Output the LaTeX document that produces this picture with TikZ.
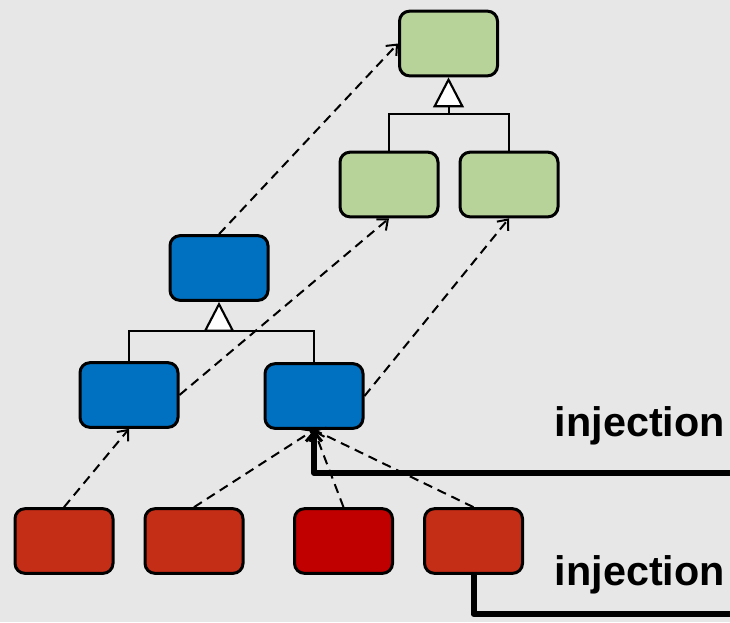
\documentclass[tikz,border=0pt]{standalone}
\usepackage{fontspec}
\setmainfont{Liberation Sans}
\usetikzlibrary{arrows.meta}
\definecolor{bg}{HTML}{E7E7E7}
\definecolor{leaf}{HTML}{B7D39A}
\definecolor{mid}{HTML}{0070C0}
\definecolor{low}{HTML}{C42D16}
\definecolor{lowdark}{HTML}{C00000}
\tikzset{
  box/.style={draw=black, line width=2.25pt, rounded corners=7.5pt,
    minimum width=73.5pt, minimum height=48.5pt, inner sep=0pt},
  tree/.style={line width=1.5pt},
  gen/.style={tree, -{Triangle[fill=white, length=22.5pt, width=23pt, line width=1.6pt]}},
  link/.style={line width=1.5pt, dash pattern=on 7pt off 4.5pt,
    -{Straight Barb[length=6.5pt, width=11pt, line width=1.5pt]}},
  inject/.style={line width=4.5pt, line join=round,
    -{Straight Barb[length=7pt, width=12pt, line width=2.2pt]}},
  injectplain/.style={line width=4.5pt, line join=round},
  lbl/.style={font=\bfseries\fontsize{31}{31}\selectfont, anchor=base east, inner sep=0pt}
}
\begin{document}
\begin{tikzpicture}[x=0.75pt, y=-0.75pt]
  \fill[bg] (0,0) rectangle (730,622);
  \useasboundingbox (0,0) rectangle (730,622);

  % upper layer
  \node[box, fill=leaf] (G0) at (448.5,43.5) {};
  \node[box, fill=leaf] (G1) at (389,184.5) {};
  \node[box, fill=leaf] (G2) at (509,184.5) {};
  % middle layer
  \node[box, fill=mid] (B0) at (219,268) {};
  \node[box, fill=mid] (B1) at (129,395) {};
  \node[box, fill=mid] (B2) at (314,396) {};
  % lower layer
  \node[box, fill=low] (R1) at (64,541) {};
  \node[box, fill=low] (R2) at (194,541) {};
  \node[box, fill=lowdark] (R3) at (343.5,541) {};
  \node[box, fill=low] (R4) at (473.5,541) {};

  % generalisation trees
  \coordinate (gj) at (448.5,114);
  \draw[tree] (G1.north) |- (gj) -| (G2.north);
  \draw[gen] (gj) -- (G0.south);
  \coordinate (bj) at (219,331);
  \draw[tree] (B1.north) |- (bj) -| (B2.north);
  \draw[gen] (bj) -- (B0.south);

  % dashed mappings
  \draw[link] (R1.north) -- (B1.south);
  \draw[link] (R2.north) -- (B2.south);
  \draw[link] (R3.north) -- (B2.south);
  \draw[link] (R4.north) -- (B2.south);
  \draw[link] (B1.east) -- (G1.south);
  \draw[link] (B2.east) -- (G2.south);
  \draw[link] (B0.north) -- (G0.west);

  % injections
  \coordinate (in1) at (731,473);
  \coordinate (in2) at (731,614);
  \draw[inject] (in1) -| (B2.south);
  \draw[injectplain] (R4.south) |- (in2);
  \node[lbl] (L1) at (725,436) {injection};
  \node[lbl] (L2) at (725,585) {injection};
\end{tikzpicture}
\end{document}
